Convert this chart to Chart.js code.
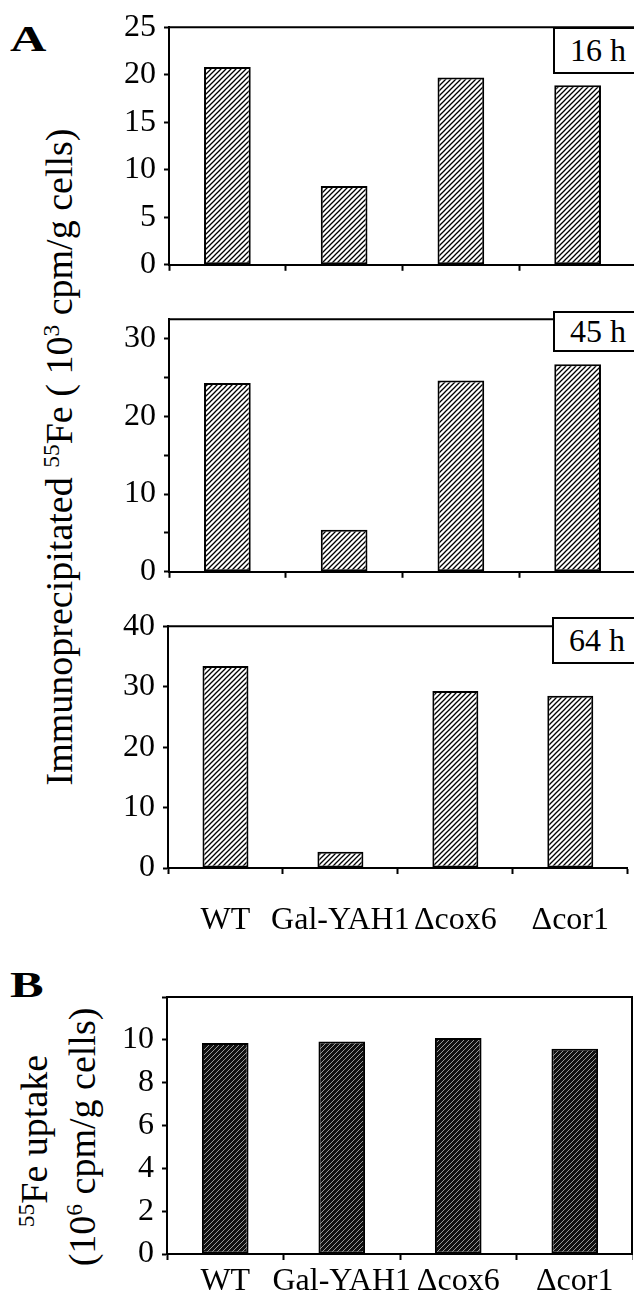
<!DOCTYPE html>
<html>
<head>
<meta charset="utf-8">
<script src="https://cdn.jsdelivr.net/npm/chart.js@4.4.1/dist/chart.umd.min.js"></script>
<style>
  html, body { margin: 0; padding: 0; background: #fff; overflow: hidden; }
  body { width: 634px; height: 1297px; position: relative; font-family: "Liberation Serif", "Times New Roman", serif; color: #000; }
  canvas { position: absolute; left: 0; }
  .lbl { position: absolute; white-space: nowrap; line-height: 1; }
  .panel { font-weight: bold; font-size: 36px; transform: scaleX(1.4); transform-origin: left top; }
  .ytitle { font-size: 38px; transform: translate(-50%, -50%) rotate(-90deg); }
  .sup { font-size: 0.62em; position: relative; top: -0.55em; }
  .hbox { position: absolute; border: 2px solid #000; background: #fff; font-size: 32px; display: flex; align-items: center; justify-content: center; box-sizing: border-box; z-index: 2; }
</style>
</head>
<body>

<div class="lbl panel" style="left:10px; top:21px;">A</div>
<div class="lbl panel" style="left:10px; top:967px;">B</div>

<div class="lbl ytitle" style="left:59px; top:457px;">Immunoprecipitated <span class="sup">55</span>Fe ( 10<span class="sup">3</span> cpm/g cells)</div>
<div class="lbl ytitle" style="left:34px; top:1141px;"><span class="sup">55</span>Fe uptake</div>
<div class="lbl ytitle" style="left:82px; top:1137px;">(10<span class="sup">6</span> cpm/g cells)</div>

<div class="hbox" style="left:553px; top:27px; width:90px; height:47px;">16 h</div>
<div class="hbox" style="left:553px; top:311px; width:90px; height:41px;">45 h</div>
<div class="hbox" style="left:552px; top:617px; width:90px; height:47px;">64 h</div>

<canvas id="c16" width="636" height="292" style="top:0px;"></canvas>
<canvas id="c45" width="636" height="307" style="top:292px;"></canvas>
<canvas id="c64" width="636" height="340" style="top:599px;"></canvas>
<canvas id="cB" width="633" height="358" style="top:939px;"></canvas>

<script>
// data
const categories = ['WT', 'Gal-YAH1', 'Δcox6', 'Δcor1'];
const fe16h = [20.8, 8.3, 19.7, 18.9];
const fe45h = [24.3, 5.4, 24.6, 26.7];
const fe64h = [33.4, 2.7, 29.3, 28.5];
const uptakeB = [9.85, 9.92, 10.08, 9.58];

const ticks16h = [0, 5, 10, 15, 20, 25];
const ticks45h = [0, 10, 20, 30];
const ticks64h = [0, 10, 20, 30, 40];
const ticksB = [0, 2, 4, 6, 8, 10];

const FONT = "'Liberation Serif', 'Times New Roman', serif";

// diagonal hatching
function hatch(bg, fg, lw) {
    const p = document.createElement('canvas');
    p.width = 5; p.height = 5;
    const c = p.getContext('2d');
    c.fillStyle = bg;
    c.fillRect(0, 0, 5, 5);
    c.strokeStyle = fg;
    c.lineWidth = lw;
    c.beginPath();
    c.moveTo(-1, 6); c.lineTo(6, -1);
    c.moveTo(-1, 1); c.lineTo(1, -1);
    c.moveTo(4, 6); c.lineTo(6, 4);
    c.stroke();
    return p;
}

// top edge (and right edge for B)
const framePlugin = {
    id: 'frame',
    afterDraw(chart, args, opts) {
        const { ctx, chartArea: a } = chart;
        ctx.save();
        ctx.strokeStyle = '#000';
        ctx.lineWidth = 2;
        ctx.beginPath();
        ctx.moveTo(a.left - 1, a.top);
        ctx.lineTo(a.right + 10, a.top);
        if (opts.right) {
            ctx.moveTo(a.right - 1, a.top);
            ctx.lineTo(a.right - 1, a.bottom);
        }
        ctx.stroke();
        ctx.restore();
    }
};

function makeChart(id, values, o) {
    const ctx = document.getElementById(id).getContext('2d');
    const fill = ctx.createPattern(o.pattern, 'repeat');
    return new Chart(ctx, {
        type: 'bar',
        data: {
            labels: categories,
            datasets: [{
                data: values,
                backgroundColor: fill,
                borderColor: '#000',
                borderWidth: 2,
                borderSkipped: false,
                barPercentage: 0.4,
                categoryPercentage: 1
            }]
        },
        plugins: [framePlugin],
        options: {
            responsive: false,
            animation: false,
            layout: { padding: { top: o.top, left: 0, right: 0, bottom: 0 } },
            plugins: { legend: { display: false }, tooltip: { enabled: false }, frame: { right: !!o.right } },
            scales: {
                x: {
                    afterFit: s => { s.height = o.bottom; },
                    border: { color: '#000', width: 2 },
                    grid: { offset: true, drawOnChartArea: false, tickLength: 6, color: '#000', tickColor: '#000', tickWidth: 2 },
                    ticks: {
                        display: o.showLabels,
                        padding: o.labelPad || 0,
                        autoSkip: false,
                        maxRotation: 0,
                        color: '#000',
                        font: { family: FONT, size: 32 }
                    }
                },
                y: {
                    min: 0,
                    max: o.max,
                    afterFit: s => { s.width = o.left; },
                    border: { color: '#000', width: 2 },
                    grid: { drawOnChartArea: false, tickLength: 5, color: '#000', tickColor: '#000', tickWidth: 2 },
                    ticks: {
                        stepSize: o.step,
                        includeBounds: false,
                        padding: 8,
                        color: '#000',
                        font: { family: FONT, size: 32 },
                        callback: v => o.labels.includes(v) ? String(v) : ''
                    }
                }
            }
        }
    });
}

const lightHatch = hatch('#fff', '#000', 1.3);
const darkHatch = hatch('#111', '#9a9a9a', 1.0);

makeChart('c16', fe16h, { max: 25, step: 5, labels: ticks16h, top: 24, bottom: 10, left: 169, showLabels: false, pattern: lightHatch });
makeChart('c45', fe45h, { max: 32.5, step: 5, labels: ticks45h, top: 16, bottom: 13, left: 169, showLabels: false, pattern: lightHatch });
makeChart('c64', fe64h, { max: 40, step: 5, labels: ticks64h, top: 15, bottom: 71, left: 168, showLabels: true, labelPad: 27, pattern: lightHatch });
makeChart('cB', uptakeB, { max: 12, step: 2, labels: ticksB, top: 58, bottom: 43, left: 167, showLabels: true, labelPad: 2, pattern: darkHatch, right: true });
</script>
</body>
</html>
